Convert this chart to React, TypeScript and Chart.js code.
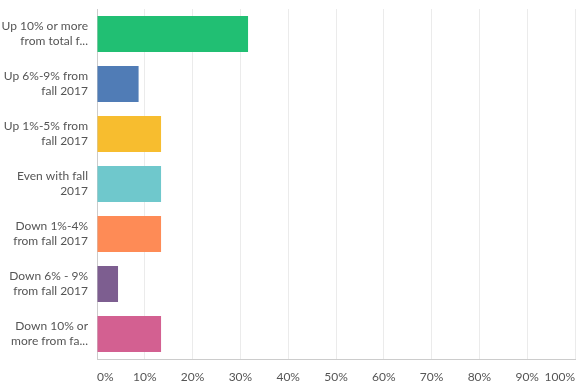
import React, { useEffect, useRef } from "react";
import { Chart, registerables } from "chart.js";

Chart.register(...registerables);

const categories: string[][] = [
  ["Up 10% or more", "from total f..."],
  ["Up 6%-9% from", "fall 2017"],
  ["Up 1%-5% from", "fall 2017"],
  ["Even with fall", "2017"],
  ["Down 1%-4%", "from fall 2017"],
  ["Down 6% - 9%", "from fall 2017"],
  ["Down 10% or", "more from fa..."],
];

const values: number[] = [31.6, 8.7, 13.4, 13.4, 13.4, 4.4, 13.4];

const barColors: string[] = [
  "#21bf73",
  "#507cb6",
  "#f7bd2f",
  "#6fc8cc",
  "#fe8b56",
  "#7d5e90",
  "#d36091",
];

const xTicks: number[] = [0, 10, 20, 30, 40, 50, 60, 70, 80, 90, 100];

export default function App() {
  const ref = useRef<HTMLCanvasElement | null>(null);

  useEffect(() => {
    if (!ref.current) return;
    const font = { family: "Lato, sans-serif", size: 12, lineHeight: 1.25 };
    const chart = new Chart(ref.current, {
      type: "bar",
      data: {
        labels: categories,
        datasets: [
          {
            data: values,
            backgroundColor: barColors,
            borderWidth: 0,
            barPercentage: 0.72,
            categoryPercentage: 1,
          },
        ],
      },
      options: {
        indexAxis: "y",
        animation: false,
        responsive: false,
        maintainAspectRatio: false,
        layout: { padding: { top: 9, right: 6, left: 0, bottom: 0 } },
        plugins: {
          legend: { display: false },
          tooltip: { enabled: false },
        },
        scales: {
          x: {
            min: 0,
            max: 100,
            afterBuildTicks: (scale: any) => {
              scale.ticks = xTicks.map((v) => ({ value: v }));
            },
            afterFit: (scale: any) => {
              scale.height = 33;
              scale.paddingLeft = 0;
              scale.paddingRight = 0;
            },
            ticks: {
              align: "inner",
              padding: 11,
              color: "#555555",
              font,
              callback: (v: any) => v + "%",
            },
            grid: {
              color: "#ebebeb",
              drawTicks: false,
            },
            border: { color: "#cccccc", width: 1 },
          },
          y: {
            afterFit: (scale: any) => {
              scale.width = 97;
              scale.paddingTop = 0;
              scale.paddingBottom = 0;
            },
            ticks: {
              padding: 9,
              color: "#555555",
              font,
            },
            grid: { display: false, drawTicks: false },
            border: { color: "#cccccc", width: 1 },
          },
        },
      },
    } as any);
    return () => chart.destroy();
  }, []);

  return (
    <div style={{ position: "fixed", left: 0, top: 0, width: 581, height: 392, background: "#fff" }}>
      <canvas ref={ref} width={581} height={392} style={{ width: 581, height: 392, display: "block" }} />
    </div>
  );
}
